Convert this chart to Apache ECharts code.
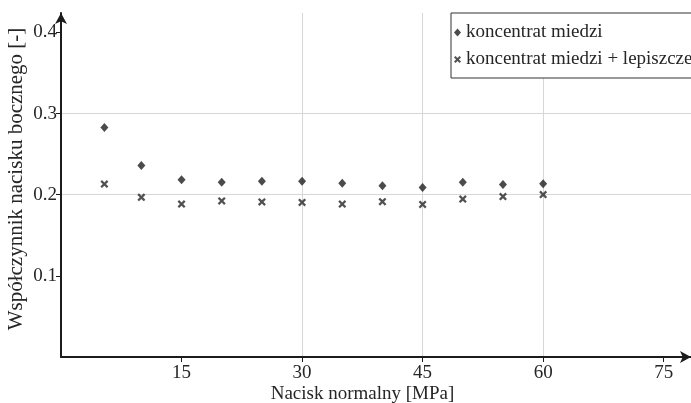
<!DOCTYPE html>
<html>
<head>
<meta charset="utf-8">
<script src="https://cdn.jsdelivr.net/npm/echarts@6/dist/echarts.min.js"></script>
<style>
html,body{margin:0;padding:0;background:#fff;}
#chart{width:691px;height:403px;}
</style>
</head>
<body>
<div id="chart"></div>
<script>
const pressure = [5.4, 10, 15, 20, 25, 30, 35, 40, 45, 50, 55, 60];
const concentrate = [0.283, 0.236, 0.2185, 0.2153, 0.2165, 0.2165, 0.2142, 0.2112, 0.209, 0.2155, 0.2125, 0.2136];
const concentrateBinder = [0.2132, 0.1968, 0.1885, 0.1924, 0.1912, 0.1905, 0.1885, 0.1915, 0.1881, 0.1947, 0.1977, 0.2002];
const xTicks = [15, 30, 45, 60, 75];
const yTicks = [0.1, 0.2, 0.3, 0.4];
const seriesNames = ['koncentrat miedzi', 'koncentrat miedzi + lepiszcze'];
const xTitle = 'Nacisk normalny [MPa]';
const yTitle = 'Współczynnik nacisku bocznego [-]';

const FONT = '"Liberation Serif", "Times New Roman", serif';
const TXT = '#262626';
const AX = '#1c1c1c';
const crossPath = 'path://M0,2 L2,0 L5,3 L8,0 L10,2 L7,5 L10,8 L8,10 L5,7 L2,10 L0,8 L3,5 Z';

const chart = echarts.init(document.getElementById('chart'), null, {renderer: 'canvas'});
chart.setOption({
  animation: false,
  backgroundColor: '#fff',
  textStyle: {fontFamily: FONT, color: TXT},
  grid: {left: 61, top: 13, right: 0, bottom: 46, containLabel: false, outerBoundsMode: 'none'},
  legend: {
    orient: 'vertical',
    left: 451, top: 13,
    padding: [10, 12, 9, 3],
    itemGap: 8,
    itemWidth: 7, itemHeight: 8,
    borderColor: '#333', borderWidth: 1,
    backgroundColor: '#fff',
    textStyle: {fontFamily: FONT, fontSize: 19, color: TXT},
    data: [
      {name: seriesNames[0], icon: 'diamond'},
      {name: seriesNames[1], icon: crossPath}
    ]
  },
  xAxis: {
    type: 'value',
    min: 0, max: 78.4, interval: 15,
    name: xTitle,
    nameLocation: 'middle',
    nameGap: 28,
    nameMoveOverlap: false,
    nameTextStyle: {fontFamily: FONT, fontSize: 19, color: TXT, padding: [0, 27, 0, 0]},
    axisLine: {show: true, lineStyle: {color: AX, width: 2}, symbol: ['none', 'arrow'], symbolSize: [9, 11]},
    axisTick: {show: true, length: 5, lineStyle: {color: AX, width: 1}, customValues: xTicks},
    axisLabel: {fontFamily: FONT, fontSize: 19, color: TXT, margin: 7, customValues: xTicks,
      formatter: v => xTicks.includes(v) ? String(v) : ''},
    splitLine: {show: true, showMinLine: false, showMaxLine: false, lineStyle: {color: '#d6d6d6', width: 1}}
  },
  yAxis: {
    type: 'value',
    min: 0, max: 0.424, interval: 0.1,
    name: yTitle,
    nameLocation: 'middle',
    nameGap: 34,
    nameMoveOverlap: false,
    nameRotate: 90,
    nameTextStyle: {fontFamily: FONT, fontSize: 21, color: TXT, padding: [0, 0, 0, 12]},
    axisLine: {show: true, lineStyle: {color: AX, width: 2}, symbol: ['none', 'arrow'], symbolSize: [9, 11]},
    axisTick: {show: true, length: 5, lineStyle: {color: AX, width: 1}, customValues: yTicks},
    axisLabel: {fontFamily: FONT, fontSize: 19, color: TXT, margin: 4, customValues: yTicks,
      formatter: v => yTicks.some(t => Math.abs(t - v) < 1e-9) ? v.toFixed(1) : ''},
    splitLine: {show: true, showMinLine: false, showMaxLine: false, lineStyle: {color: '#d6d6d6', width: 1}}
  },
  series: [
    {
      name: seriesNames[0],
      type: 'scatter',
      symbol: 'diamond',
      symbolSize: [8, 9],
      itemStyle: {color: '#1e1e1e'},
      data: pressure.map((x, i) => [x, concentrate[i]])
    },
    {
      name: seriesNames[1],
      type: 'scatter',
      symbol: crossPath,
      symbolSize: 8,
      itemStyle: {color: '#262626'},
      data: pressure.map((x, i) => [x, concentrateBinder[i]])
    }
  ]
});
</script>
</body>
</html>
